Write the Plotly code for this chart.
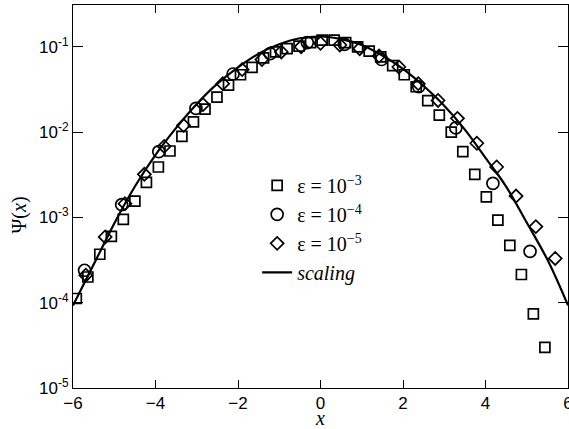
import plotly.graph_objects as go

# eps = 1e-3 (squares)
sq_x = [-5.92, -5.64, -5.35, -5.07, -4.78, -4.50, -4.22, -3.93, -3.65, -3.36,
        -3.08, -2.80, -2.51, -2.23, -1.94, -1.66, -1.38, -1.09, -0.81, -0.52,
        -0.24, 0.04, 0.33, 0.61, 0.90, 1.18, 1.46, 1.75, 2.03, 2.32,
        2.60, 2.88, 3.17, 3.45, 3.74, 4.02, 4.30, 4.59, 4.87, 5.16, 5.44]
sq_y = [1.12e-4, 2.0e-4, 3.7e-4, 6.0e-4, 9.5e-4, 1.55e-3, 2.57e-3, 3.9e-3, 6.0e-3, 8.9e-3,
        1.32e-2, 1.86e-2, 2.57e-2, 3.55e-2, 4.7e-2, 5.75e-2, 7.4e-2, 8.7e-2, 9.5e-2, 0.102,
        0.112, 0.120, 0.120, 0.112, 0.100, 0.089, 0.076, 0.060, 0.047, 0.034,
        0.0234, 0.0158, 0.0100, 5.9e-3, 3.2e-3, 1.74e-3, 9.3e-4, 4.7e-4, 2.14e-4, 7.4e-5, 3.0e-5]

# eps = 1e-4 (circles)
ci_x = [-5.72, -4.82, -3.92, -3.02, -2.12, -1.22, -0.32, 0.58, 1.48, 2.38, 3.28, 4.18, 5.08]
ci_y = [2.4e-4, 1.41e-3, 5.9e-3, 1.9e-2, 4.8e-2, 8.3e-2, 0.112, 0.107, 0.071, 0.034,
        0.0112, 2.5e-3, 4.0e-4]

# eps = 1e-5 (diamonds)
di_x = [-5.69, -5.22, -4.74, -4.27, -3.79, -3.32, -2.85, -2.37, -1.90, -1.42, -0.95, -0.47, 0.0,
        0.47, 0.95, 1.42, 1.90, 2.37, 2.85, 3.32, 3.79, 4.27, 4.74, 5.22, 5.69]
di_y = [2.1e-4, 5.9e-4, 1.45e-3, 3.2e-3, 6.8e-3, 1.2e-2, 2.1e-2, 3.7e-2, 5.4e-2, 7.1e-2, 8.7e-2, 0.10, 0.11,
        0.105, 0.095, 0.078, 0.058, 0.037, 0.0235, 0.0145, 7.4e-3, 3.9e-3, 1.78e-3, 7.8e-4, 3.3e-4]

# scaling curve
sc_x = [-6, -5.5, -5, -4.5, -4, -3.5, -3, -2.5, -2, -1.5, -1, -0.5, 0,
        0.5, 1, 1.5, 2, 2.5, 3, 3.5, 4, 4.5, 5, 5.5, 6]
sc_y = [9.3e-5, 2.8e-4, 8.5e-4, 2.3e-3, 5.4e-3, 1.12e-2, 2.14e-2, 3.7e-2, 5.75e-2, 8.3e-2, 0.107, 0.126, 0.132,
        0.123, 0.105, 0.079, 0.055, 0.0347, 0.0204, 0.0107, 5.0e-3, 2.3e-3, 8.7e-4, 3.2e-4, 9.3e-5]

x_ticks = [-6, -4, -2, 0, 2, 4, 6]
y_ticks = [1e-5, 1e-4, 1e-3, 1e-2, 1e-1]
y_ticktext = ["10<sup>-5</sup>", "10<sup>-4</sup>", "10<sup>-3</sup>", "10<sup>-2</sup>", "10<sup>-1</sup>"]

mk_line = dict(color="black", width=1.7)

fig = go.Figure()
fig.add_trace(go.Scatter(x=sq_x, y=sq_y, mode="markers", name="ε = 10<sup>−3</sup>",
                         marker=dict(symbol="square-open", size=10, line=mk_line, color="black")))
fig.add_trace(go.Scatter(x=ci_x, y=ci_y, mode="markers", name="ε = 10<sup>−4</sup>",
                         marker=dict(symbol="circle-open", size=12, line=mk_line, color="black")))
fig.add_trace(go.Scatter(x=di_x, y=di_y, mode="markers", name="ε = 10<sup>−5</sup>",
                         marker=dict(symbol="diamond-open", size=10, line=mk_line, color="black")))
fig.add_trace(go.Scatter(x=sc_x, y=sc_y, mode="lines", name="<i>scaling</i>",
                         line=dict(color="black", width=2.2, shape="spline")))

axis_common = dict(showline=True, linecolor="black", linewidth=1, mirror="ticks",
                   ticks="inside", tickcolor="black", showgrid=False, zeroline=False,
                   ticklabeloverflow="allow",
                   tickfont=dict(family="Liberation Sans", size=17, color="black"))

fig.update_xaxes(range=[-6, 6], tickvals=x_ticks, ticklen=8, **axis_common)
fig.update_yaxes(type="log", range=[-5, -0.51], tickvals=y_ticks, ticktext=y_ticktext,
                 ticklen=10, **axis_common)

fig.update_layout(
    template="none",
    width=569, height=429,
    margin=dict(l=73, r=1, t=5, b=41),
    paper_bgcolor="white", plot_bgcolor="white",
    showlegend=True,
    legend=dict(x=0.372, y=0.58, xanchor="left", yanchor="top",
                bgcolor="rgba(0,0,0,0)",
                font=dict(family="Liberation Serif", size=20, color="black")),
    annotations=[
        dict(text="<i>x</i>", xref="paper", yref="paper", x=0.4987, y=-0.078,
             showarrow=False, xanchor="center", yanchor="middle",
             font=dict(family="Liberation Serif", size=20, color="black")),
        dict(text="Ψ(<i>x</i>)", xref="paper", yref="paper", x=-0.108, y=0.452,
             showarrow=False, xanchor="center", yanchor="middle", textangle=-90,
             font=dict(family="Liberation Serif", size=20, color="black")),
    ],
)

# no body margin and no scrollbars, so the figure fills the window exactly
page_js = ("document.body.style.margin='0';"
           "document.documentElement.style.overflow='hidden';"
           "document.body.style.overflow='hidden';")
fig.write_html("out.html", post_script=page_js, config={"displayModeBar": False})
